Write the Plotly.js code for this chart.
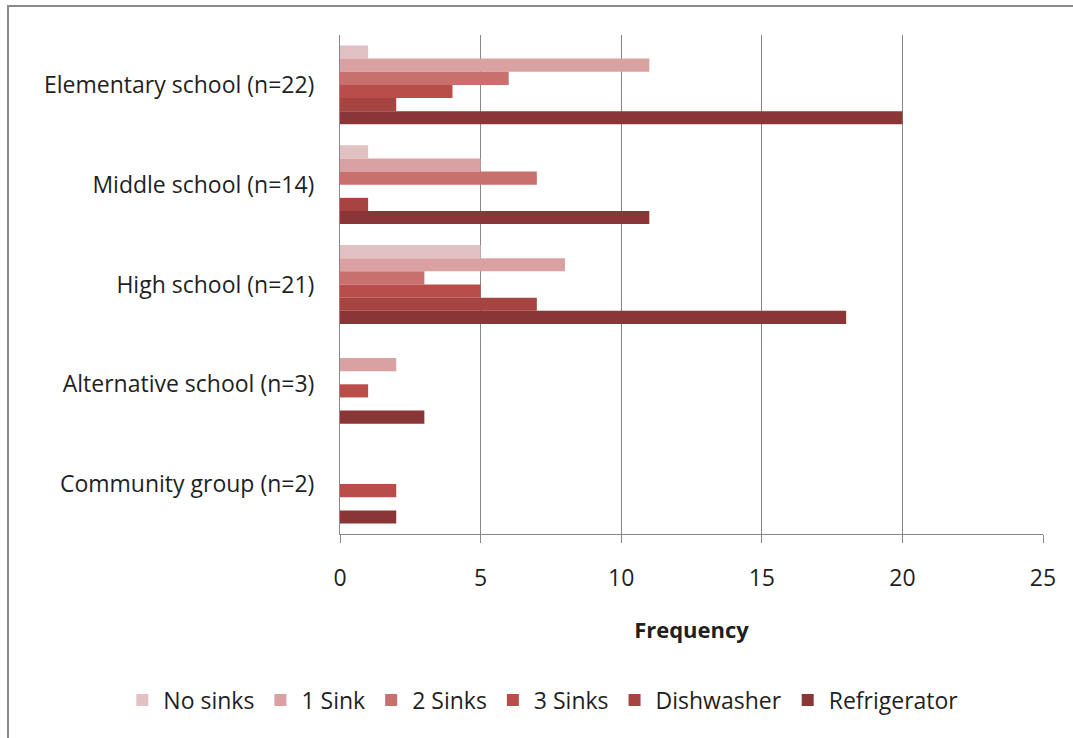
<!DOCTYPE html>
<html>
<head>
<meta charset="utf-8">
<script src="https://cdn.plot.ly/plotly-3.0.1.min.js"></script>
<style>
  html, body { margin: 0; padding: 0; background: #fff; overflow: hidden; }
  #wrap { position: relative; width: 1073px; height: 738px; }
  #frame { position: absolute; left: 7px; top: 5px; width: 1200px; height: 900px;
           border: 2px solid #8a8a8a; pointer-events: none; box-sizing: border-box; }
  #chart { position: absolute; left: 0; top: 0; width: 1073px; height: 738px; }
</style>
</head>
<body>
<div id="wrap">
  <div id="chart"></div>
  <div id="frame"></div>
</div>
<script>
// School types (rows, top to bottom)
const categories = [
  "Elementary school (n=22)",
  "Middle school (n=14)",
  "High school (n=21)",
  "Alternative school (n=3)",
  "Community group (n=2)"
];

// Kitchen equipment series
const seriesNames = ["No sinks", "1 Sink", "2 Sinks", "3 Sinks", "Dishwasher", "Refrigerator"];
const noSinks      = [1, 1, 5, 0, 0];
const oneSink      = [11, 5, 8, 2, 0];
const twoSinks     = [6, 7, 3, 0, 0];
const threeSinks   = [4, 0, 5, 1, 2];
const dishwasher   = [2, 1, 7, 0, 0];
const refrigerator = [20, 11, 18, 3, 2];

const seriesValues = [noSinks, oneSink, twoSinks, threeSinks, dishwasher, refrigerator];
const seriesColors = ["#e2c1c3", "#d9a1a1", "#c8706e", "#b94d4a", "#a54441", "#8b3636"];

const xTicks = [0, 5, 10, 15, 20, 25];

const FONT = "'Open Sans', 'Noto Sans', sans-serif";
const TEXT = "#1f1f1f";
const GRID = "#878787";

const traces = seriesNames.map((name, i) => ({
  type: "bar",
  orientation: "h",
  name: name,
  y: categories,
  x: seriesValues[i],
  marker: { color: seriesColors[i], line: { width: 0 } },
  hoverinfo: "x+name"
}));

const layout = {
  width: 1073,
  height: 738,
  paper_bgcolor: "rgba(0,0,0,0)",
  plot_bgcolor: "#fff",
  margin: { l: 340, r: 30, t: 35, b: 204 },
  font: { family: FONT, size: 22, color: TEXT },
  barmode: "group",
  bargap: 0.21,
  bargroupgap: 0,
  showlegend: true,
  legend: {
    orientation: "h",
    xref: "paper", yref: "paper",
    x: -0.311, xanchor: "left",
    y: -0.333, yanchor: "middle",
    itemwidth: 32,
    font: { family: FONT, size: 23, color: TEXT },
    traceorder: "normal"
  },
  xaxis: {
    range: [0, 25],
    tickvals: xTicks,
    ticktext: xTicks.map(String),
    showgrid: true, gridcolor: GRID, gridwidth: 1,
    zeroline: false,
    showline: true, linecolor: GRID, linewidth: 1,
    ticks: "outside", ticklen: 8, tickcolor: GRID,
    ticklabelstandoff: 15,
    tickfont: { family: FONT, size: 23, color: TEXT },
    title: {
      text: "Frequency",
      font: { family: FONT, size: 22, color: TEXT, weight: "bold" },
      standoff: 31
    },
    fixedrange: true
  },
  yaxis: {
    type: "category",
    autorange: "reversed",
    showgrid: false,
    zeroline: false,
    showline: true, linecolor: GRID, linewidth: 1,
    ticks: "",
    ticklabelstandoff: 20,
    tickfont: { family: FONT, size: 23, color: TEXT },
    fixedrange: true
  }
};

Plotly.newPlot("chart", traces, layout, { displayModeBar: false, staticPlot: true });
</script>
</body>
</html>
